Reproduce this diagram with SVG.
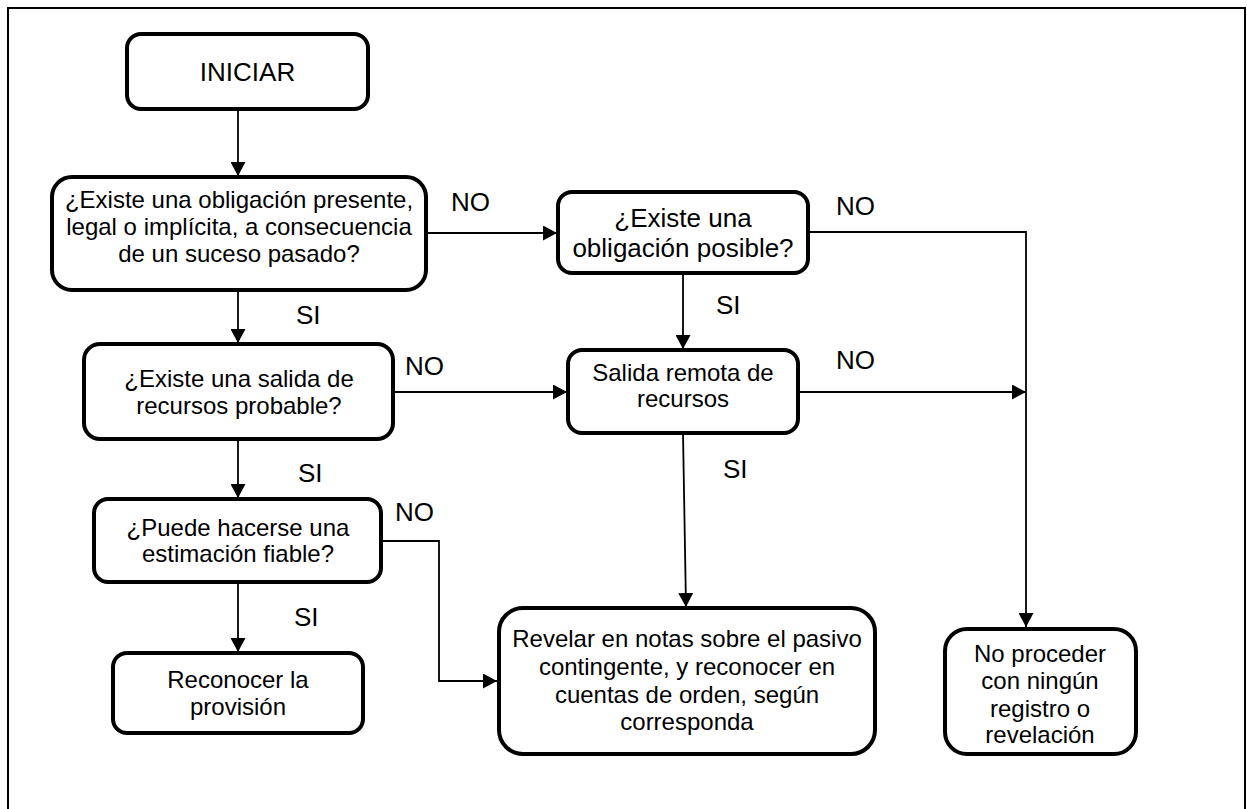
<svg xmlns="http://www.w3.org/2000/svg" width="1247" height="809" viewBox="0 0 1247 809">
<style>
.box{fill:#fff;stroke:#000;stroke-width:4}
.t{font-family:"Liberation Sans",Arial,sans-serif;font-size:24px;fill:#000;text-anchor:middle}
.t26{font-size:26px}
.lbl{font-family:"Liberation Sans",Arial,sans-serif;font-size:26px;fill:#000}
.c{fill:none;stroke:#000;stroke-width:1.8}
</style>
<defs>
<marker id="ah" markerUnits="userSpaceOnUse" markerWidth="15" markerHeight="15" refX="14" refY="7.5" orient="auto" viewBox="0 0 15 15">
<path d="M0,0 L14,7.5 L0,15 z" fill="#000"/>
</marker>
</defs>
<rect x="8" y="8" width="1237" height="820" fill="none" stroke="#000" stroke-width="2"/>
<g id="connectors">
<line class="c" x1="238" y1="109" x2="238" y2="176" marker-end="url(#ah)"/>
<line class="c" x1="426" y1="233" x2="557" y2="233" marker-end="url(#ah)"/>
<polyline class="c" points="808,232 1026,232 1026,627" marker-end="url(#ah)"/>
<line class="c" x1="238" y1="290" x2="238" y2="343" marker-end="url(#ah)"/>
<line class="c" x1="683" y1="273" x2="683" y2="349" marker-end="url(#ah)"/>
<line class="c" x1="393" y1="392" x2="567" y2="392" marker-end="url(#ah)"/>
<line class="c" x1="798" y1="392" x2="1026" y2="392" marker-end="url(#ah)"/>
<line class="c" x1="238" y1="439" x2="238" y2="498" marker-end="url(#ah)"/>
<polyline class="c" points="381,541 439,541 439,681 497,681" marker-end="url(#ah)"/>
<line class="c" x1="683" y1="433" x2="686" y2="607" marker-end="url(#ah)"/>
<line class="c" x1="238" y1="582" x2="238" y2="652" marker-end="url(#ah)"/>
<g id="labels">
<text class="lbl" x="451" y="211">NO</text>
<text class="lbl" x="836" y="215">NO</text>
<text class="lbl" x="716" y="314">SI</text>
<text class="lbl" x="296" y="324">SI</text>
<text class="lbl" x="405" y="375">NO</text>
<text class="lbl" x="836" y="369">NO</text>
<text class="lbl" x="723" y="478">SI</text>
<text class="lbl" x="298" y="482">SI</text>
<text class="lbl" x="395" y="521">NO</text>
<text class="lbl" x="294" y="626">SI</text>
</g>
</g>
<g id="n-iniciar">
<rect class="box" x="127" y="34" width="241" height="75" rx="14"/>
<text class="t t26" x="247.5" y="81">INICIAR</text>
</g>
<g id="n-obligacion-presente">
<rect class="box" x="52" y="177" width="374" height="113" rx="20"/>
<text class="t" x="239" y="208">¿Existe una obligación presente,</text>
<text class="t" x="239" y="235">legal o implícita, a consecuencia</text>
<text class="t" x="239" y="262">de un suceso pasado?</text>
</g>
<g id="n-obligacion-posible">
<rect class="box" x="558" y="192" width="250" height="81" rx="14"/>
<text class="t t26" x="683" y="227">¿Existe una</text>
<text class="t t26" x="683" y="257">obligación posible?</text>
</g>
<g id="n-salida-probable">
<rect class="box" x="84" y="344" width="309" height="95" rx="16"/>
<text class="t" x="239" y="387">¿Existe una salida de</text>
<text class="t" x="239" y="414">recursos probable?</text>
</g>
<g id="n-salida-remota">
<rect class="box" x="568" y="350" width="230" height="83" rx="14"/>
<text class="t" x="683" y="381">Salida remota de</text>
<text class="t" x="683" y="407">recursos</text>
</g>
<g id="n-estimacion">
<rect class="box" x="94" y="499" width="287" height="83" rx="14"/>
<text class="t" x="238" y="536">¿Puede hacerse una</text>
<text class="t" x="238" y="562">estimación fiable?</text>
</g>
<g id="n-reconocer">
<rect class="box" x="113" y="653" width="250" height="80" rx="14"/>
<text class="t" x="238" y="688">Reconocer la</text>
<text class="t" x="238" y="715">provisión</text>
</g>
<g id="n-revelar">
<rect class="box" x="499" y="608" width="376" height="146" rx="24"/>
<text class="t" x="687" y="647">Revelar en notas sobre el pasivo</text>
<text class="t" x="687" y="675">contingente, y reconocer en</text>
<text class="t" x="687" y="703">cuentas de orden, según</text>
<text class="t" x="687" y="730">corresponda</text>
</g>
<g id="n-no-proceder">
<rect class="box" x="945" y="629" width="191" height="125" rx="22"/>
<text class="t" x="1040" y="662">No proceder</text>
<text class="t" x="1040" y="689">con ningún</text>
<text class="t" x="1040" y="717">registro o</text>
<text class="t" x="1040" y="743">revelación</text>
</g>
</svg>
